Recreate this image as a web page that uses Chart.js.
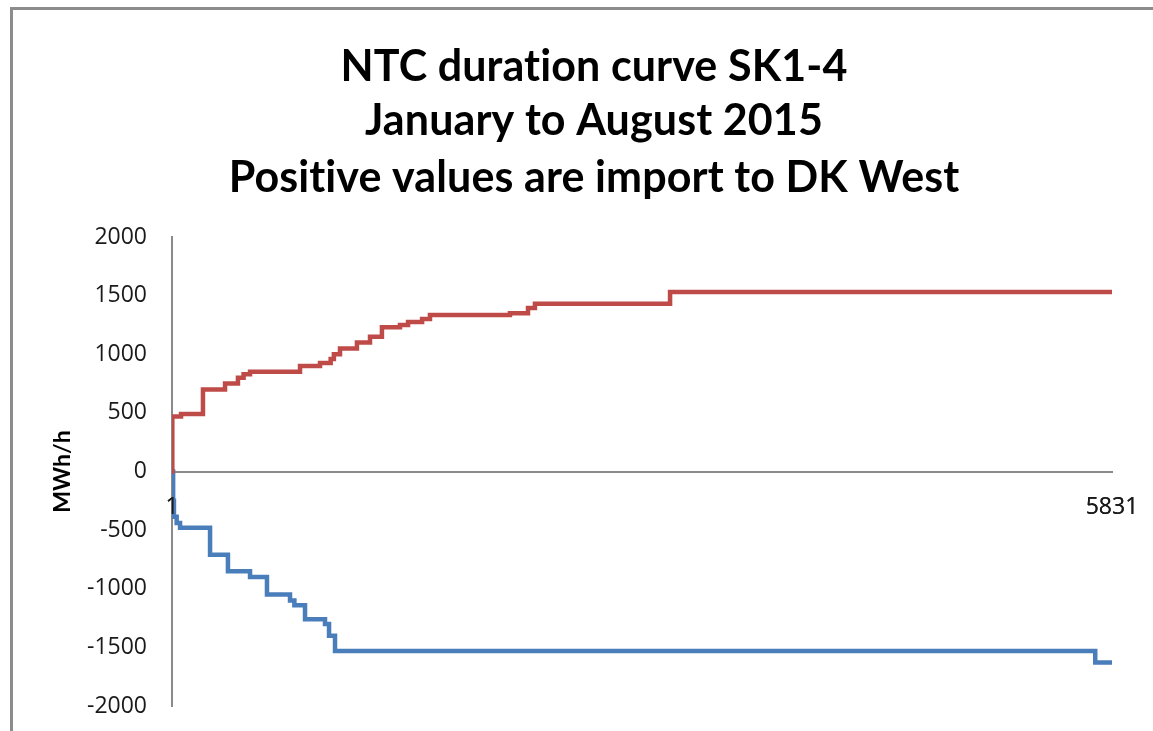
<!DOCTYPE html>
<html>
<head>
<meta charset="utf-8">
<script src="https://cdn.jsdelivr.net/npm/chart.js@4.4.1/dist/chart.umd.min.js"></script>
<style>
  html, body { margin: 0; padding: 0; background: #fff; overflow: hidden; }
  #wrap { position: relative; width: 1153px; height: 731px; }
  #frame { position: absolute; left: 10px; top: 7px; right: -20px; bottom: -20px;
           border-top: 3px solid #8c8c8c; border-left: 3px solid #8c8c8c; pointer-events: none; }
</style>
</head>
<body>
<div id="wrap">
  <canvas id="ntcChart"></canvas>
  <div id="frame"></div>
</div>
<script>
const titleLines = ['NTC duration curve SK1-4', 'January to August 2015', 'Positive values are import to DK West'];
const yTitle = 'MWh/h';
const hourTicks = [1, 5831];

// import (red) duration curve: hour where each step starts, MWh/h
const importHours  = [1, 3, 57, 193, 330, 410, 445, 485, 795, 919, 985, 1005, 1043, 1148, 1229, 1303, 1415, 1465, 1552, 1601, 2097, 2209, 2252, 3090, 5831];
const importValues = [0, 470, 490, 700, 750, 800, 830, 850, 900, 925, 960, 1000, 1050, 1100, 1150, 1230, 1250, 1275, 1300, 1335, 1350, 1395, 1430, 1530, 1530];

// export (blue) duration curve
const exportHours  = [1, 8, 13, 30, 51, 237, 348, 485, 590, 733, 760, 826, 950, 975, 1012, 5727, 5831];
const exportValues = [0, -250, -385, -440, -480, -710, -850, -900, -1050, -1100, -1140, -1260, -1300, -1400, -1530, -1630, -1630];

const toPoints = (xs, ys) => xs.map((x, i) => ({ x, y: ys[i] }));

// title centred a bit right of the canvas middle, like the original
const titlePlugin = {
  id: 'centredTitle',
  afterDraw(c) {
    const ctx = c.ctx;
    ctx.save();
    ctx.font = 'bold 43px Lato';
    ctx.letterSpacing = '0.1px';
    ctx.fillStyle = '#000';
    ctx.textAlign = 'center';
    ctx.textBaseline = 'middle';
    const ys = [67, 121, 178];
    titleLines.forEach((t, i) => ctx.fillText(t, 594, ys[i]));
    ctx.restore();
  }
};

// x labels sit on top of the lines
const labelsOnTop = {
  id: 'labelsOnTop',
  afterDatasetsDraw(c) { c.scales.x.drawLabels(c.chartArea); }
};

const noPad = (s) => { s.paddingTop = 0; s.paddingBottom = 0; s.paddingLeft = 0; s.paddingRight = 0; };

function drawChart() {
  Chart.defaults.font.family = '"Open Sans"';

  new Chart(document.getElementById('ntcChart'), {
    type: 'line',
    data: {
      datasets: [
        {
          label: 'Import',
          data: toPoints(importHours, importValues),
          borderColor: '#BE4B48',
          borderWidth: 4.5,
          pointRadius: 0,
          stepped: true,
          fill: false
        },
        {
          label: 'Export',
          data: toPoints(exportHours, exportValues),
          borderColor: '#4A7EBB',
          borderWidth: 4.5,
          pointRadius: 0,
          stepped: true,
          fill: false
        }
      ]
    },
    options: {
      responsive: true,
      maintainAspectRatio: false,
      animation: false,
      layout: { padding: { left: 0, right: 41, top: 237, bottom: 25 } },
      plugins: {
        legend: { display: false },
        title: { display: false },
        tooltip: { enabled: false }
      },
      scales: {
        x: {
          type: 'linear',
          position: { y: 0 },
          min: 1,
          max: 5831,
          afterBuildTicks: (s) => { s.ticks = hourTicks.map(v => ({ value: v })); },
          afterFit: noPad,
          grid: { display: false, drawTicks: false },
          border: { display: true, color: '#8a8a8a', width: 2 },
          ticks: {
            padding: 22,
            maxRotation: 0,
            autoSkip: false,
            color: '#1a1a1a',
            font: { size: 23, family: '"Open Sans"' },
            callback: (v) => String(v)
          }
        },
        y: {
          min: -2000,
          max: 2000,
          afterFit: (s) => { s.width = 172; noPad(s); },
          grid: { display: false, drawTicks: false },
          border: { display: true, color: '#8a8a8a', width: 2 },
          ticks: {
            stepSize: 500,
            padding: 25,
            color: '#1a1a1a',
            font: { size: 23, family: '"Open Sans"' },
            callback: (v) => String(v)
          },
          title: {
            display: true,
            text: yTitle,
            color: '#000',
            font: { size: 23, weight: 'bold', family: 'Lato' },
            padding: { top: 49, bottom: 0 }
          }
        }
      }
    },
    plugins: [titlePlugin, labelsOnTop]
  });
}

Promise.all([
  document.fonts.load('23px "Open Sans"'),
  document.fonts.load('bold 23px Lato'),
  document.fonts.load('bold 43px Lato')
]).then(drawChart, drawChart);
</script>
</body>
</html>
